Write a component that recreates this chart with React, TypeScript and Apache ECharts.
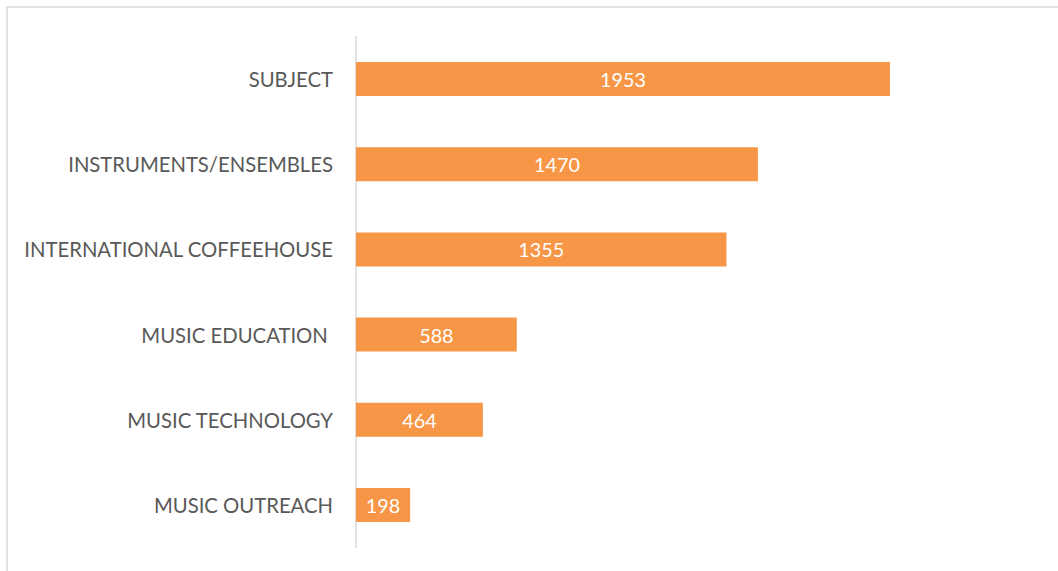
import React, { useEffect, useRef } from "react";
import * as echarts from "echarts";

const categories = [
  "MUSIC OUTREACH",
  "MUSIC TECHNOLOGY",
  "MUSIC EDUCATION ",
  "INTERNATIONAL COFFEEHOUSE",
  "INSTRUMENTS/ENSEMBLES",
  "SUBJECT",
];
const values = [198, 464, 588, 1355, 1470, 1953];

export default function App() {
  const ref = useRef<HTMLDivElement>(null);
  useEffect(() => {
    if (!ref.current) return;
    const chart = echarts.init(ref.current, null, { renderer: "svg" });
    chart.setOption({
      animation: false,
      backgroundColor: "#ffffff",
      graphic: [
        {
          type: "rect",
          shape: { x: 7, y: 7, width: 1100, height: 600 },
          style: { fill: "none", stroke: "#d9d9d9", lineWidth: 1.5 },
          silent: true,
        },
      ],
      grid: { left: 356, right: 18.5, top: 36.5, bottom: 23.5, containLabel: false },
      xAxis: {
        type: "value",
        min: 0,
        max: 2500,
        show: false,
      },
      yAxis: {
        type: "category",
        data: categories,
        axisLine: { show: true, lineStyle: { color: "#d9d9d9", width: 1.5 } },
        axisTick: { show: false },
        axisLabel: {
          color: "#595959",
          fontFamily: "Lato, 'Open Sans', sans-serif",
          fontSize: 20.3,
          margin: 23,
        },
      },
      series: [
        {
          type: "bar",
          data: values,
          barWidth: "40%",
          itemStyle: { color: "#F79646" },
          label: {
            show: true,
            position: "inside",
            color: "#ffffff",
            fontFamily: "Lato, 'Open Sans', sans-serif",
            fontSize: 19.8,
          },
        },
      ],
    });
    return () => chart.dispose();
  }, []);
  return (
    <div
      ref={ref}
      style={{ position: "fixed", left: 0, top: 0, width: 1058, height: 571 }}
    />
  );
}
